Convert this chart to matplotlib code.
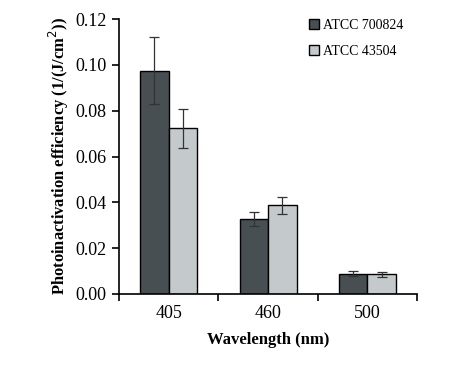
import numpy as np
import matplotlib
matplotlib.use("Agg")
import matplotlib.pyplot as plt

# data
wavelengths = ["405", "460", "500"]
atcc_700824 = [0.0974, 0.0327, 0.0089]
err_700824 = [0.0146, 0.0030, 0.0010]
atcc_43504 = [0.0723, 0.0387, 0.0086]
err_43504 = [0.0085, 0.0037, 0.0010]

plt.rcParams['font.family'] = ['Liberation Serif', 'DejaVu Serif']

fig = plt.figure(figsize=(4.74, 3.67), dpi=100)
ax = fig.add_axes([0.251, 0.199, 0.629, 0.749])

x = np.arange(len(wavelengths))
w = 0.287
ax.bar(x - w/2, atcc_700824, w, yerr=err_700824, color="#474f52", edgecolor="black",
       linewidth=1.0, ecolor="#333333", capsize=3.5, error_kw=dict(elinewidth=0.9, capthick=0.9),
       label="ATCC 700824")
ax.bar(x + w/2, atcc_43504, w, yerr=err_43504, color="#c4cacb", edgecolor="black",
       linewidth=1.0, ecolor="#333333", capsize=3.5, error_kw=dict(elinewidth=0.9, capthick=0.9),
       label="ATCC 43504")

ax.set_xlim(-0.5, 2.5)
ax.set_ylim(0, 0.12)
ax.set_yticks(np.arange(0, 0.121, 0.02))
ax.set_yticklabels(["%.2f" % v for v in np.arange(0, 0.121, 0.02)])
ax.set_xticks(x)
ax.set_xticklabels(wavelengths)
ax.set_xticks([-0.5, 0.5, 1.5, 2.5], minor=True)
ax.tick_params(axis='x', which='major', length=0, labelsize=13, pad=8)
ax.tick_params(axis='x', which='minor', length=5, width=1.2, direction='out')
ax.tick_params(axis='y', length=5, width=1.2, labelsize=13, pad=4)

for s in ["top", "right"]:
    ax.spines[s].set_visible(False)
for s in ["left", "bottom"]:
    ax.spines[s].set_linewidth(1.2)

ax.set_xlabel("Wavelength (nm)", fontsize=12, fontweight="bold", labelpad=7)
ax.set_ylabel("Photoinactivation efficiency (1/(J/cm$^2$))", fontsize=11.9, fontweight="bold", labelpad=3)

ax.legend(loc="upper right", bbox_to_anchor=(0.995, 1.045), frameon=False, fontsize=10,
          handlelength=0.7, handleheight=0.7, handletextpad=0.3, labelspacing=0.9)

fig.savefig("out.png", dpi=100)
